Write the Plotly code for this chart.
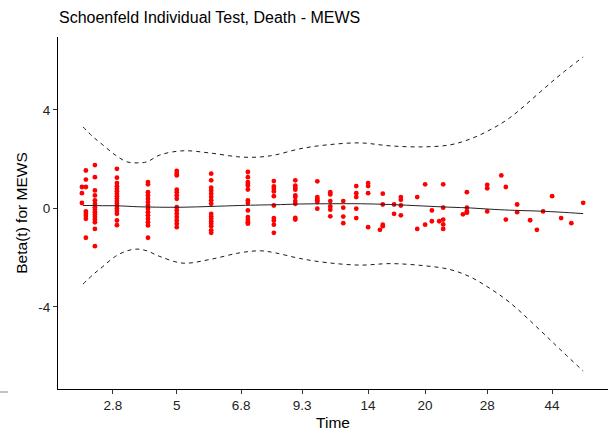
import plotly.graph_objects as go

# Transformed (KM-scale) time positions of the residual strips and their scaled Schoenfeld residuals
strip_time = [0.056, 0.063, 0.079, 0.118, 0.173, 0.224, 0.285, 0.350, 0.396, 0.434,
              0.473, 0.496, 0.519, 0.542, 0.563, 0.584, 0.589, 0.609, 0.621, 0.650,
              0.664, 0.676, 0.689, 0.696, 0.731, 0.738, 0.774, 0.799, 0.807, 0.827,
              0.850, 0.862, 0.873, 0.889, 0.905, 0.923, 0.944]
strip_resid = [
    [0.87, 0.62, 0.22],
    [1.54, 1.17, 0.87, -0.12, -0.22, -0.31, -0.42, -1.19],
    [1.76, 1.27, 0.73, 0.53, 0.33, 0.19, 0.05, -0.05, -0.15, -0.25, -0.35, -0.45, -0.56, -0.83, -1.53],
    [1.61, 1.25, 1.03, 0.90, 0.80, 0.70, 0.60, 0.50, 0.40, 0.30, 0.20, 0.10, 0.00, -0.10, -0.22, -0.49, -0.68],
    [1.07, 0.98, 0.66, 0.53, 0.39, 0.26, 0.12, -0.01, -0.15, -0.28, -0.42, -0.56, -0.69, -1.19],
    [1.52, 1.41, 1.34, 0.76, 0.66, 0.53, 0.39, 0.05, -0.08, -0.22, -0.35, -0.49, -0.62, -0.76],
    [1.41, 1.14, 0.84, 0.73, 0.60, 0.46, 0.33, 0.19, -0.22, -0.33, -0.42, -0.52, -0.62, -0.72, -0.89, -0.99],
    [1.48, 1.27, 1.07, 1.00, 0.93, 0.77, 0.33, 0.22, -0.08, -0.35, -0.46, -0.56, -0.62],
    [1.11, 0.89, 0.80, 0.69, 0.50, 0.12, -0.39, -0.49, -0.66, -0.99],
    [1.14, 0.93, 0.84, 0.76, 0.53, 0.46, 0.30, 0.19, -0.38, -0.45],
    [1.10, 0.46, 0.39, 0.33, 0.26, -0.01],
    [0.66, 0.57, 0.30, 0.08, -0.05, -0.32],
    [0.30, 0.03, -0.33, -0.60],
    [0.91, 0.62, 0.46, -0.01, -0.39],
    [1.03, 0.91, 0.62, -0.76],
    [-0.87],
    [0.60, 0.16, -0.66, -0.72],
    [0.16, -0.22],
    [0.46, 0.35, 0.12, -0.28],
    [0.46, -0.83],
    [0.98, -0.66],
    [-0.08, -0.52],
    [-0.52],
    [0.98, 0.03, -0.45, -0.65, -0.83],
    [-0.24],
    [0.66, 0.03, -0.12, -0.17],
    [0.96, 0.82, -0.12],
    [1.34],
    [0.87, -0.45],
    [0.16, -0.15],
    [-0.48],
    [-0.87],
    [-0.12],
    [0.50],
    [-0.39],
    [-0.60],
    [0.23],
]

# Smoothed beta(t) and its confidence band
curve_time = [0.058, 0.076, 0.093, 0.115, 0.136, 0.154, 0.171, 0.194, 0.235, 0.283,
              0.336, 0.372, 0.398, 0.442, 0.490, 0.549, 0.602, 0.660, 0.708, 0.744,
              0.779, 0.814, 0.868, 0.903, 0.944]
beta_fit = [0.12, 0.12, 0.11, 0.11, 0.09, 0.07, 0.06, 0.05, 0.05, 0.08,
            0.12, 0.14, 0.15, 0.18, 0.19, 0.19, 0.16, 0.10, 0.05, 0.02,
            -0.03, -0.07, -0.11, -0.15, -0.21]
beta_upper = [3.31, 2.90, 2.58, 2.17, 1.89, 1.85, 1.89, 2.17, 2.34, 2.25,
              2.09, 2.09, 2.17, 2.42, 2.58, 2.66, 2.54, 2.50, 2.58, 2.82,
              3.19, 3.68, 4.73, 5.42, 6.15]
beta_lower = [-3.07, -2.68, -2.36, -1.95, -1.72, -1.65, -1.72, -1.95, -2.22, -2.07,
              -1.80, -1.72, -1.80, -2.03, -2.20, -2.30, -2.24, -2.32, -2.48, -2.78,
              -3.25, -3.82, -4.95, -5.72, -6.60]

x_tick_pos = [0.111, 0.224, 0.338, 0.446, 0.563, 0.664, 0.774, 0.889]
x_tick_text = ["2.8", "5", "6.8", "9.3", "14", "20", "28", "44"]
y_tick_vals = [-4, 0, 4]
y_tick_text = ["-4", "0", "4"]

px_x, px_y = [], []
for t, vals in zip(strip_time, strip_resid):
    for v in vals:
        px_x.append(t)
        px_y.append(v)

fig = go.Figure()
fig.add_trace(go.Scatter(x=px_x, y=px_y, mode="markers",
                         marker=dict(color="#FF0000", size=4.8, line=dict(width=0)),
                         showlegend=False, hoverinfo="skip"))
fig.add_trace(go.Scatter(x=curve_time, y=beta_fit, mode="lines", line_shape="spline",
                         line=dict(color="#222222", width=1), showlegend=False))
fig.add_trace(go.Scatter(x=curve_time, y=beta_upper, mode="lines", line_shape="spline",
                         line=dict(color="#000000", width=0.9, dash="4px,4px"), showlegend=False))
fig.add_trace(go.Scatter(x=curve_time, y=beta_lower, mode="lines", line_shape="spline",
                         line=dict(color="#000000", width=0.9, dash="4px,4px"), showlegend=False))

font_family = "Liberation Sans, Arial, sans-serif"
fig.update_layout(
    width=609, height=438,
    margin=dict(l=58, r=1, t=37, b=49),
    paper_bgcolor="white", plot_bgcolor="white",
    font=dict(family=font_family, color="#000000", size=13),
    title=dict(text="Schoenfeld Individual Test, Death - MEWS",
               x=59/609, xanchor="left", xref="container",
               y=1-17/438, yanchor="middle", yref="container",
               font=dict(size=16, color="#000000")),
    xaxis=dict(range=[0.0136, 0.988], showgrid=False, zeroline=False, automargin=False,
               showline=True, linecolor="#000000", linewidth=1,
               ticks="outside", ticklen=4, tickcolor="#333333",
               tickvals=x_tick_pos, ticktext=x_tick_text,
               tickfont=dict(size=13.5, color="#222222"),
               title=dict(text="Time", font=dict(size=15.5), standoff=4)),
    yaxis=dict(range=[-7.33, 6.96], showgrid=False, zeroline=False, automargin=False,
               showline=True, linecolor="#000000", linewidth=1,
               ticks="outside", ticklen=4, tickcolor="#333333",
               tickvals=y_tick_vals, ticktext=y_tick_text,
               tickfont=dict(size=13.5, color="#222222"),
               title=dict(text="Beta(t) for MEWS", font=dict(size=15.5), standoff=6)),
    shapes=[dict(type="line", xref="paper", yref="paper",
                 x0=-58/550, x1=-50/550, y0=-3/352, y1=-3/352,
                 line=dict(color="#888888", width=1))],
)

fig.write_html("out.html", config={"displayModeBar": False},
               post_script="document.body.style.margin='0px';document.body.style.overflow='hidden';")
